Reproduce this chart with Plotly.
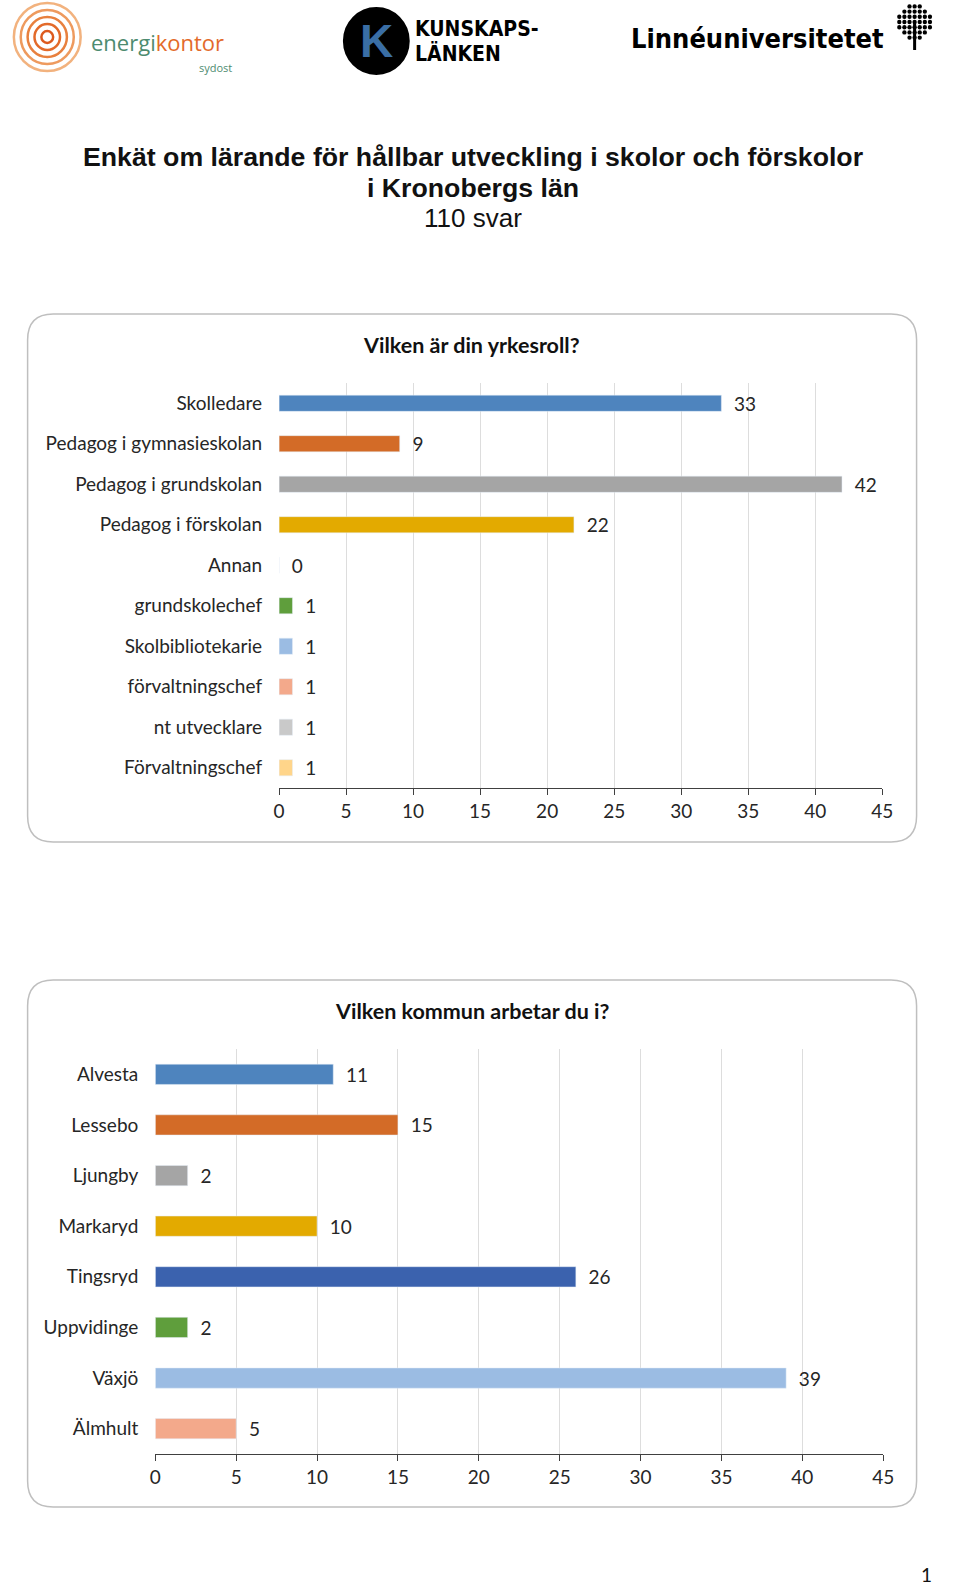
import plotly.graph_objects as go

roles = ["Skolledare", "Pedagog i gymnasieskolan", "Pedagog i grundskolan", "Pedagog i förskolan",
         "Annan", "grundskolechef", "Skolbibliotekarie", "förvaltningschef", "nt utvecklare", "Förvaltningschef"]
role_counts = [33, 9, 42, 22, 0, 1, 1, 1, 1, 1]
role_colors = ["#4E84BE", "#D36B27", "#A5A5A5", "#E3AA00", "#3B62AE", "#5F9E3C",
               "#9BBCE3", "#F3A98B", "#C9C9C9", "#FFD58A"]

towns = ["Alvesta", "Lessebo", "Ljungby", "Markaryd", "Tingsryd", "Uppvidinge", "Växjö", "Älmhult"]
town_counts = [11, 15, 2, 10, 26, 2, 39, 5]
town_colors = ["#4E84BE", "#D36B27", "#A5A5A5", "#E3AA00", "#3B62AE", "#5F9E3C", "#9BBCE3", "#F3A98B"]

x_ticks = [0, 5, 10, 15, 20, 25, 30, 35, 40, 45]

W, H = 960, 1587
FONT = "Lato"
TXT = "#262626"
FS = 19

fig = go.Figure()
fig.add_trace(go.Bar(y=roles, x=role_counts, orientation="h", marker_color=role_colors,
                     width=0.4, text=role_counts, texttemplate="  %{x}", textposition="outside",
                     cliponaxis=False, constraintext="none",
                     textfont=dict(family=FONT, size=FS, color=TXT), xaxis="x", yaxis="y",
                     hoverinfo="x+y"))
fig.add_trace(go.Bar(y=towns, x=town_counts, orientation="h", marker_color=town_colors,
                     width=0.4, text=town_counts, texttemplate="  %{x}", textposition="outside",
                     cliponaxis=False, constraintext="none",
                     textfont=dict(family=FONT, size=FS, color=TXT), xaxis="x2", yaxis="y2",
                     hoverinfo="x+y"))

def py(p):
    return 1 - p / H

xcommon = dict(range=[0, 45], tickvals=x_ticks, showgrid=True, gridcolor="#DDDDDD", gridwidth=1,
               zeroline=False, showline=True, linecolor="#404040", linewidth=1.2,
               ticks="outside", ticklen=6, tickcolor="#404040",
               tickfont=dict(family=FONT, size=FS, color=TXT), fixedrange=True)
ycommon = dict(autorange="reversed", showgrid=False, showline=False, ticks="",
               tickfont=dict(family=FONT, size=FS, color=TXT), ticklabelstandoff=16, fixedrange=True)

fig.update_layout(
    width=W, height=H, margin=dict(l=0, r=0, t=0, b=0), autosize=False,
    paper_bgcolor="white", plot_bgcolor="white", showlegend=False,
    xaxis=dict(domain=[278 / W, 892 / W], anchor="y", **xcommon),
    yaxis=dict(domain=[py(788), py(383)], anchor="x", **ycommon),
    xaxis2=dict(domain=[152 / W, 893 / W], anchor="y2", **xcommon),
    yaxis2=dict(domain=[py(1454), py(1049)], anchor="x2", **ycommon),
    bargap=0.6,
)

def rounded_rect(x0, y0, x1, y1, r):
    X = lambda v: v / W
    Y = lambda v: py(v)
    return (f"M {X(x0 + r)} {Y(y0)} L {X(x1 - r)} {Y(y0)} Q {X(x1)} {Y(y0)} {X(x1)} {Y(y0 + r)} "
            f"L {X(x1)} {Y(y1 - r)} Q {X(x1)} {Y(y1)} {X(x1 - r)} {Y(y1)} "
            f"L {X(x0 + r)} {Y(y1)} Q {X(x0)} {Y(y1)} {X(x0)} {Y(y1 - r)} "
            f"L {X(x0)} {Y(y0 + r)} Q {X(x0)} {Y(y0)} {X(x0 + r)} {Y(y0)} Z")

shapes = [
    dict(type="path", xref="paper", yref="paper", path=rounded_rect(22, 314, 927, 842, 26),
         line=dict(color="#BFBFBF", width=1.5), layer="below"),
    dict(type="path", xref="paper", yref="paper", path=rounded_rect(22, 980, 927, 1507, 26),
         line=dict(color="#BFBFBF", width=1.5), layer="below"),
]
# logo decorations: energikontor spiral
for r, c in [(34, "#F2B27E"), (27, "#EE9A5E"), (20, "#E8803E"), (13, "#E36A2A"), (6, "#DD5A1E")]:
    shapes.append(dict(type="circle", xref="paper", yref="paper",
                       x0=(42 - r) / W, x1=(42 + r) / W, y0=py(37 + r), y1=py(37 - r),
                       line=dict(color=c, width=2.5)))
# kunskapslänken disc
shapes.append(dict(type="circle", xref="paper", yref="paper", x0=344 / W, x1=410 / W,
                   y0=py(74), y1=py(8), fillcolor="black", line=dict(color="black")))
# linnéuniversitetet tree: trunk + dotted crown
shapes.append(dict(type="line", xref="paper", yref="paper", x0=925 / W, x1=925 / W,
                   y0=py(50), y1=py(22), line=dict(color="black", width=3)))
cx, cy, R = 925, 22, 17
for i in range(-3, 4):
    for j in range(-3, 4):
        dx, dy = i * 5.2, j * 5.2
        if dx * dx + dy * dy <= R * R:
            shapes.append(dict(type="circle", xref="paper", yref="paper",
                               x0=(cx + dx - 2.2) / W, x1=(cx + dx + 2.2) / W,
                               y0=py(cy + dy + 2.2), y1=py(cy + dy - 2.2),
                               fillcolor="black", line=dict(width=0)))
fig.update_layout(shapes=shapes)

COND = "DejaVu Sans Condensed, Roboto, sans-serif"
ann = [
    dict(x=475 / W, y=py(157), text="<b>Enkät om lärande för hållbar utveckling i skolor och förskolor</b>",
         font=dict(family="Liberation Sans", size=26.7, color="#111111")),
    dict(x=475 / W, y=py(188), text="<b>i Kronobergs län</b>",
         font=dict(family="Liberation Sans", size=26.7, color="#111111")),
    dict(x=475 / W, y=py(218), text="110 svar", font=dict(family="Liberation Sans", size=26, color="#111111")),
    dict(x=474 / W, y=py(345), text="<b>Vilken är din yrkesroll?</b>",
         font=dict(family=FONT, size=21.5, color="#111111")),
    dict(x=474 / W, y=py(1011), text="<b>Vilken kommun arbetar du i?</b>",
         font=dict(family=FONT, size=21.5, color="#111111")),
    dict(x=945 / W, y=py(1574), text="1", font=dict(family=FONT, size=19, color="#111111")),
    # logos as text
    dict(x=84 / W, y=py(42), xanchor="left", text="energi<span style='color:#E36A2A'>kontor</span>",
         font=dict(family="Open Sans", size=22, color="#4D8B6F")),
    dict(x=194 / W, y=py(67), xanchor="left", text="sydost", font=dict(family="Open Sans", size=11, color="#4D8B6F")),
    dict(x=377 / W, y=py(41), text="<b>K</b>", font=dict(family="Liberation Sans", size=46, color="#3A6EA5")),
    dict(x=414 / W, y=py(29), xanchor="left", text="<b>KUNSKAPS-</b>",
         font=dict(family=COND, size=21, color="black")),
    dict(x=414 / W, y=py(54), xanchor="left", text="<b>LÄNKEN</b>",
         font=dict(family=COND, size=21, color="black")),
    dict(x=634 / W, y=py(38), xanchor="left", text="<b>Linnéuniversitetet</b>",
         font=dict(family=COND, size=27, color="black")),
]
for a in ann:
    a.setdefault("xref", "paper")
    a.setdefault("yref", "paper")
    a.setdefault("showarrow", False)
    a.setdefault("yanchor", "middle")
fig.update_layout(annotations=ann)

fig.write_html("out.html", config={"displayModeBar": False, "responsive": False},
               post_script="document.body.style.margin='0';document.body.style.overflow='hidden';")
